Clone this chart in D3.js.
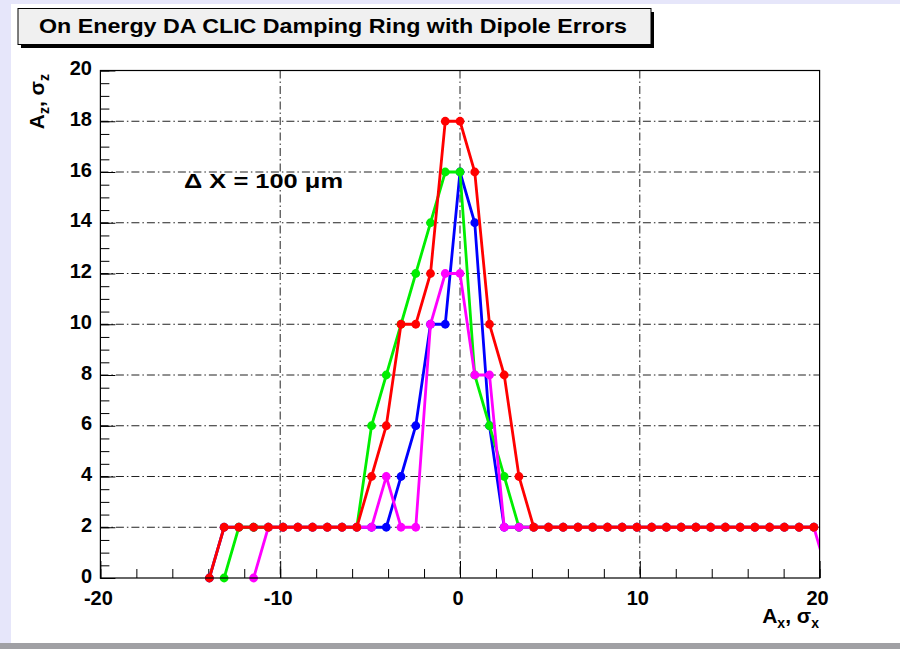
<!DOCTYPE html>
<html>
<head>
<meta charset="utf-8">
<script src="https://cdn.jsdelivr.net/npm/d3@7/dist/d3.min.js"></script>
<style>
  html, body { margin: 0; padding: 0; background: #e6e6fa; }
  svg { display: block; }
  text { font-family: "Liberation Sans", Arial, Helvetica, sans-serif; font-weight: bold; fill: #000; }
</style>
</head>
<body>
<div id="chart"></div>
<script>
// ---------------- data ----------------
const titleText = "On Energy DA CLIC Damping Ring with Dipole Errors";
const annotation = "\u0394 X = 100 \u03bcm";
const xTickLabels = [-20, -10, 0, 10, 20];
const yTickLabels = [0, 2, 4, 6, 8, 10, 12, 14, 16, 18, 20];

// horizontal amplitude grid (sigma_x) shared by all scans
const amplitudes = [
  -13.94, -13.12, -12.30, -11.48, -10.66, -9.84, -9.02, -8.20, -7.38, -6.56,
  -5.74, -4.92, -4.10, -3.28, -2.46, -1.64, -0.82, 0.00, 0.82, 1.64,
  2.46, 3.28, 4.10, 4.92, 5.74, 6.56, 7.38, 8.20, 9.02, 9.84,
  10.66, 11.48, 12.30, 13.12, 13.94, 14.76, 15.58, 16.40, 17.22, 18.04,
  18.86, 19.68, 20.50
];
// vertical amplitude (sigma_z) per scan, null = no point
const blueZ = [
  0, 2, 2, 2, 2, 2, 2, 2, 2, 2,
  2, 2, 2, 4, 6, 10, 10, 16, 14, 6,
  2, 2, 2, 2, 2, 2, 2, 2, 2, 2,
  2, 2, 2, 2, 2, 2, 2, 2, 2, 2,
  2, 2, null
];
const greenZ = [
  null, 0, 2, 2, 2, 2, 2, 2, 2, 2,
  2, 6, 8, 10, 12, 14, 16, 16, 8, 6,
  4, 2, 2, 2, 2, 2, 2, 2, 2, 2,
  2, 2, 2, 2, 2, 2, 2, 2, 2, 2,
  2, 2, null
];
const magentaZ = [
  null, null, null, 0, 2, 2, 2, 2, 2, 2,
  2, 2, 4, 2, 2, 10, 12, 12, 8, 8,
  2, 2, 2, 2, 2, 2, 2, 2, 2, 2,
  2, 2, 2, 2, 2, 2, 2, 2, 2, 2,
  2, 2, 0
];
const redZ = [
  0, 2, 2, 2, 2, 2, 2, 2, 2, 2,
  2, 4, 6, 10, 10, 12, 18, 18, 16, 10,
  8, 4, 2, 2, 2, 2, 2, 2, 2, 2,
  2, 2, 2, 2, 2, 2, 2, 2, 2, 2,
  2, 2, null
];
const seriesNames = ["blue", "green", "magenta", "red"];
const seriesValues = [blueZ, greenZ, magentaZ, redZ];
const seriesColors = ["#0000ff", "#00ee00", "#ff00ff", "#ff0000"];

// ---------------- layout ----------------
const W = 900, H = 649;
const plot = { left: 100.4, right: 819.6, top: 70.5, bottom: 578 };

const svg = d3.select("#chart").append("svg")
  .attr("width", W).attr("height", H);

// canvas
svg.append("rect").attr("x", 0).attr("y", 0).attr("width", W).attr("height", H).attr("fill", "#e6e6fa");
svg.append("rect").attr("x", 11).attr("y", 4).attr("width", W - 11).attr("height", 639).attr("fill", "#ffffff");
svg.append("rect").attr("x", 0).attr("y", 643).attr("width", W).attr("height", 6).attr("fill", "#a0a0a4");

const x = d3.scaleLinear().domain([-20, 20]).range([plot.left, plot.right]);
const y = d3.scaleLinear().domain([0, 20]).range([plot.bottom, plot.top]);

// grid
const gridDash = "8,3,1.5,3";
const g = svg.append("g");
g.selectAll("line.vg").data([-10, 0, 10]).enter().append("line")
  .attr("x1", d => x(d)).attr("x2", d => x(d))
  .attr("y1", plot.top).attr("y2", plot.bottom)
  .attr("stroke", "#222").attr("stroke-width", 1).attr("stroke-dasharray", gridDash);
g.selectAll("line.hg").data(d3.range(2, 20, 2)).enter().append("line")
  .attr("x1", plot.left).attr("x2", plot.right)
  .attr("y1", d => y(d)).attr("y2", d => y(d))
  .attr("stroke", "#222").attr("stroke-width", 1).attr("stroke-dasharray", gridDash);

// axes (ticks inside)
const xAxisMinor = d3.axisTop(x).tickValues(d3.range(-20, 21, 2)).tickSize(9).tickFormat("");
const xAxisMajor = d3.axisTop(x).tickValues(xTickLabels).tickSize(17).tickFormat("");
const yAxisMinor = d3.axisRight(y).tickValues(d3.range(0, 20.01, 0.5)).tickSize(9).tickFormat("");
const yAxisMajor = d3.axisRight(y).tickValues(yTickLabels).tickSize(15).tickFormat("");

function styleAxis(sel) {
  sel.select(".domain").remove();
  sel.selectAll(".tick line").attr("stroke", "#000").attr("stroke-width", 1);
}
svg.append("g").attr("transform", `translate(0,${plot.bottom})`).call(xAxisMinor).call(styleAxis);
svg.append("g").attr("transform", `translate(0,${plot.bottom})`).call(xAxisMajor).call(styleAxis);
svg.append("g").attr("transform", `translate(${plot.left},0)`).call(yAxisMinor).call(styleAxis);
svg.append("g").attr("transform", `translate(${plot.left},0)`).call(yAxisMajor).call(styleAxis);

// tick labels
svg.append("g").selectAll("text").data(xTickLabels).enter().append("text")
  .attr("x", d => x(d) - 2).attr("y", 605)
  .attr("text-anchor", "middle").attr("font-size", 20)
  .text(d => d);
svg.append("g").selectAll("text").data(yTickLabels).enter().append("text")
  .attr("x", 92).attr("y", d => y(d) + 4.5)
  .attr("text-anchor", "end").attr("font-size", 20)
  .text(d => d);

// axis titles
const xt = svg.append("text").attr("x", 819).attr("y", 623).attr("text-anchor", "end").attr("font-size", 21);
xt.append("tspan").text("A");
xt.append("tspan").attr("font-size", 14).attr("dy", 5).text("x");
xt.append("tspan").attr("dy", -5).text(", \u03c3");
xt.append("tspan").attr("font-size", 14).attr("dy", 5).text("x");

const yt = svg.append("text").attr("transform", "translate(44,74) rotate(-90)")
  .attr("text-anchor", "end").attr("font-size", 21);
yt.append("tspan").text("A");
yt.append("tspan").attr("font-size", 14).attr("dy", 5).text("z");
yt.append("tspan").attr("dy", -5).text(", \u03c3");
yt.append("tspan").attr("font-size", 14).attr("dy", 5).text("z");

// series
svg.append("clipPath").attr("id", "plotclip").append("rect")
  .attr("x", plot.left).attr("y", plot.top - 10)
  .attr("width", plot.right - plot.left).attr("height", plot.bottom - plot.top + 20);

const line = d3.line()
  .defined(d => d.z !== null)
  .x(d => x(d.a)).y(d => y(d.z));

seriesValues.forEach((vals, si) => {
  const pts = amplitudes.map((a, i) => ({ a: a, z: vals[i] }));
  const sg = svg.append("g").attr("class", "series-" + seriesNames[si]);
  sg.append("path").datum(pts)
    .attr("d", line)
    .attr("fill", "none")
    .attr("stroke", seriesColors[si])
    .attr("stroke-width", 2.8)
    .attr("clip-path", "url(#plotclip)");
  sg.selectAll("circle").data(pts.filter(p => p.z !== null && p.a <= 20)).enter().append("circle")
    .attr("cx", d => x(d.a)).attr("cy", d => y(d.z))
    .attr("r", 4.4)
    .attr("fill", seriesColors[si]);
});

// frame
svg.append("rect")
  .attr("x", plot.left).attr("y", plot.top)
  .attr("width", plot.right - plot.left).attr("height", plot.bottom - plot.top)
  .attr("fill", "none").attr("stroke", "#000").attr("stroke-width", 1.2);

// annotation
svg.append("text").attr("x", 184).attr("y", 188).attr("font-size", 21)
  .attr("textLength", 159).attr("lengthAdjust", "spacingAndGlyphs")
  .text(annotation);

// title box with shadow
svg.append("rect").attr("x", 21).attr("y", 12).attr("width", 633).attr("height", 36).attr("fill", "#000");
svg.append("rect").attr("x", 18).attr("y", 8.5).attr("width", 633).attr("height", 36)
  .attr("fill", "#f0f0f0").attr("stroke", "#000").attr("stroke-width", 1);
svg.append("text").attr("x", 39).attr("y", 33).attr("font-size", 20.5)
  .attr("textLength", 588).attr("lengthAdjust", "spacingAndGlyphs")
  .text(titleText);
</script>
</body>
</html>
